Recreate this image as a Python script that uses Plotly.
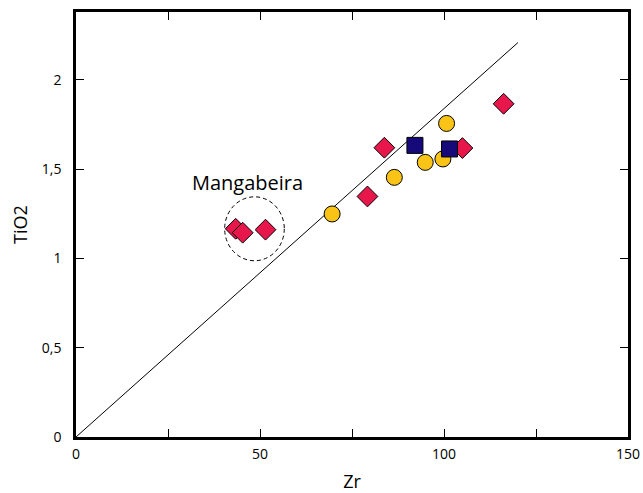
import plotly.graph_objects as go

# Data
diamond_zr = [43.4, 45.3, 51.5, 79.2, 83.8, 105.0, 116.2]
diamond_ti = [1.166, 1.144, 1.161, 1.347, 1.620, 1.618, 1.866]

circle_zr = [69.6, 86.5, 94.9, 99.7, 100.7]
circle_ti = [1.249, 1.454, 1.538, 1.557, 1.756]

square_zr = [92.1, 101.5]
square_ti = [1.633, 1.613]

ref_line_zr = [0, 120.1]
ref_line_ti = [0, 2.209]

x_tickvals = [0, 25, 50, 75, 100, 125, 150]
x_ticktext = ["0", "", "50", "", "100", "", "150"]
y_tickvals = [0, 0.5, 1, 1.5, 2]
y_ticktext = ["0", "0,5", "1", "1,5", "2"]

group_label = "Mangabeira"
group_center = (48.5, 1.166)
group_radius = (8.1, 0.179)
label_pos = (46.6, 1.423)

FONT = "Open Sans"

fig = go.Figure()

fig.add_trace(go.Scatter(x=ref_line_zr, y=ref_line_ti, mode="lines",
                         line=dict(color="black", width=1), hoverinfo="skip"))

fig.add_trace(go.Scatter(x=circle_zr, y=circle_ti, mode="markers",
                         marker=dict(symbol="circle", size=16, color="#F9C416",
                                     line=dict(color="black", width=1))))
fig.add_trace(go.Scatter(x=diamond_zr, y=diamond_ti, mode="markers",
                         marker=dict(symbol="diamond", size=16, color="#E8174B",
                                     line=dict(color="black", width=1))))
fig.add_trace(go.Scatter(x=square_zr, y=square_ti, mode="markers",
                         marker=dict(symbol="square", size=16, color="#160A7A",
                                     line=dict(color="black", width=1))))

cx, cy = group_center
rx, ry = group_radius
fig.add_shape(type="circle", xref="x", yref="y",
              x0=cx - rx, x1=cx + rx, y0=cy - ry, y1=cy + ry,
              line=dict(color="black", width=1, dash="4px,3px"))

fig.add_annotation(x=label_pos[0], y=label_pos[1], text=group_label, showarrow=False,
                   font=dict(family=FONT, size=20, color="black"))

axis_common = dict(showgrid=False, zeroline=False, showline=True, linecolor="black",
                   linewidth=2.5, mirror="allticks", ticks="inside", ticklen=8,
                   tickwidth=1, tickcolor="black", automargin=False,
                   tickfont=dict(family=FONT, size=14, color="black"))

fig.update_xaxes(range=[0, 150], tickvals=x_tickvals, ticktext=x_ticktext,
                 title=dict(text="Zr", font=dict(family=FONT, size=18, color="black"),
                            standoff=20),
                 ticklabelstandoff=2, **axis_common)
fig.update_yaxes(range=[0, 2.38], tickvals=y_tickvals, ticktext=y_ticktext,
                 title=dict(text="TiO2", font=dict(family=FONT, size=18, color="black"),
                            standoff=10),
                 ticklabelstandoff=9, **axis_common)

fig.update_layout(width=643, height=493, margin=dict(l=76, r=15, t=12, b=56),
                  plot_bgcolor="white", paper_bgcolor="white", showlegend=False)

fig.write_html("out.html")
